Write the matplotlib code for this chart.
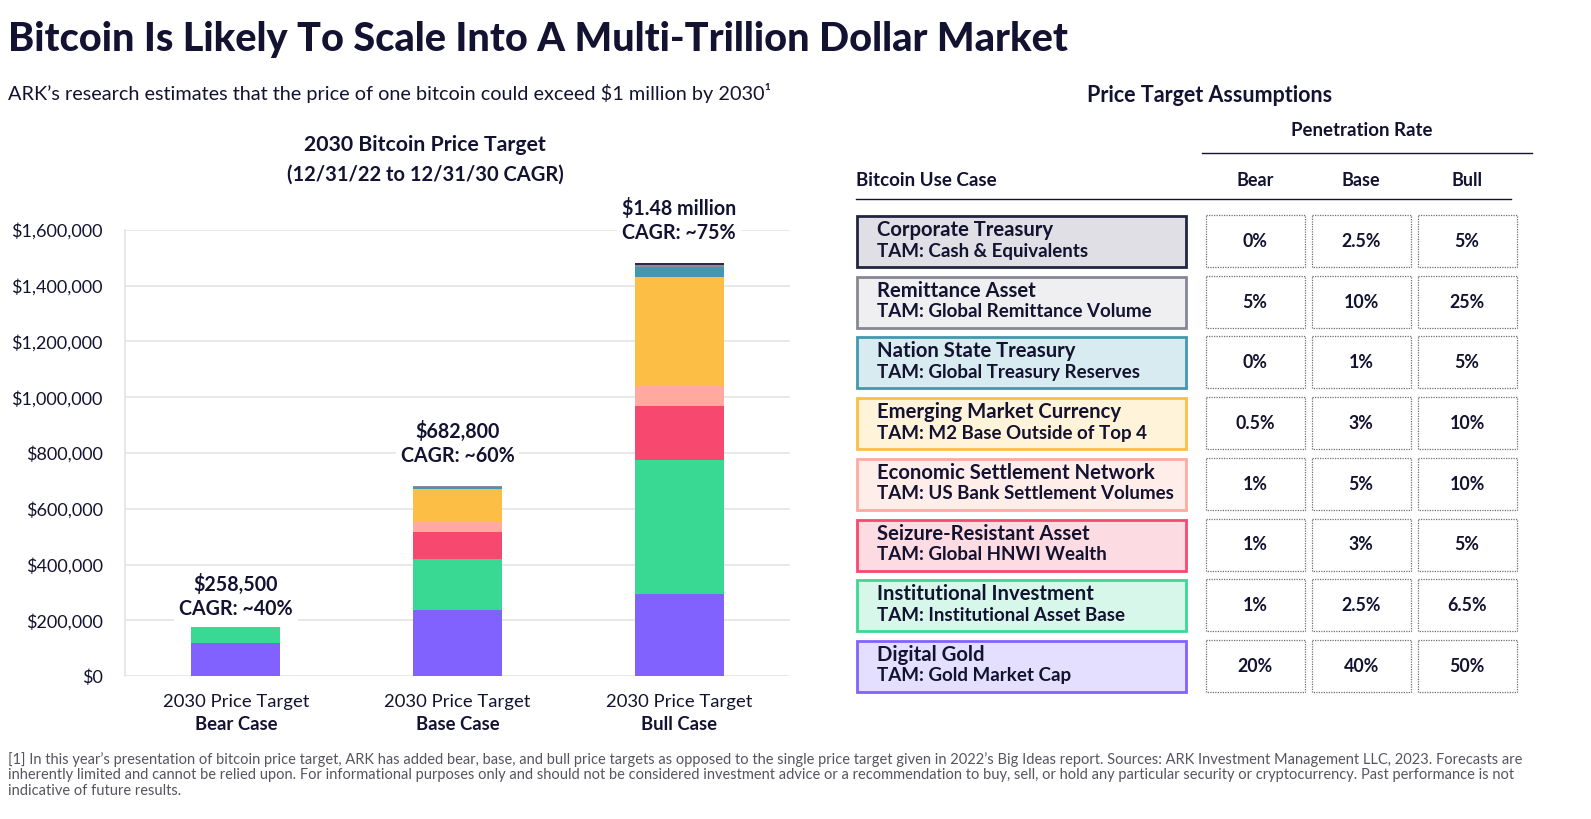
import matplotlib
matplotlib.use("Agg")
import matplotlib.pyplot as plt
from matplotlib.patches import Rectangle
import numpy as np

plt.rcParams['font.family'] = ['Lato', 'DejaVu Sans']

W, H = 1591, 819
NAVY = '#131230'

# ---- bar chart data (2030 price, $ contribution per use case, bottom to top)
cases = ["Bear Case", "Base Case", "Bull Case"]
digital_gold = [118000, 236000, 295000]
institutional = [56000, 183000, 480000]
seizure = [0, 97000, 193000]
settlement = [0, 35000, 72000]
em_currency = [0, 120000, 392000]
nation_state = [0, 7000, 36000]
remittance = [0, 3000, 8000]
corporate = [0, 2000, 6000]
price_labels = ["$258,500", "$682,800", "$1.48 million"]
cagr_labels = ["CAGR: ~40%", "CAGR: ~60%", "CAGR: ~75%"]
yticks = [0, 200000, 400000, 600000, 800000, 1000000, 1200000, 1400000, 1600000]

# ---- table data (top to bottom)
use_cases = ["Corporate Treasury", "Remittance Asset", "Nation State Treasury",
             "Emerging Market Currency", "Economic Settlement Network",
             "Seizure-Resistant Asset", "Institutional Investment", "Digital Gold"]
tams = ["TAM: Cash & Equivalents", "TAM: Global Remittance Volume",
        "TAM: Global Treasury Reserves", "TAM: M2 Base Outside of Top 4",
        "TAM: US Bank Settlement Volumes", "TAM: Global HNWI Wealth",
        "TAM: Institutional Asset Base", "TAM: Gold Market Cap"]
bear_rate = ["0%", "5%", "0%", "0.5%", "1%", "1%", "1%", "20%"]
base_rate = ["2.5%", "10%", "1%", "3%", "5%", "3%", "2.5%", "40%"]
bull_rate = ["5%", "25%", "5%", "10%", "10%", "5%", "6.5%", "50%"]

seg_colors = ['#8162FF', '#39D994', '#F7486F', '#FFA99F', '#FDBE45', '#4398AD', '#8A8C9B', '#2B2A4A']
row_fill = ['#E0DFE6', '#EFEFF2', '#D8EBF0', '#FFF3DA', '#FFEDEA', '#FDDBE2', '#D7F7EA', '#E4DFFF']
row_edge = ['#232441', '#858795', '#4398AD', '#FDBE45', '#FFA99F', '#F7486F', '#39D994', '#8162FF']
label_pad = [6, 14, 14]  # points above each bar for the price label

fig = plt.figure(figsize=(W / 100, H / 100), dpi=100)


def fx(x):
    return x / W


def fy(y):
    return 1 - y / H


# titles
fig.text(fx(8), fy(40), "Bitcoin Is Likely To Scale Into A Multi-Trillion Dollar Market",
         fontsize=28.5, fontweight='black', color=NAVY, va='center', ha='left')
fig.text(fx(8), fy(93), "ARK\u2019s research estimates that the price of one bitcoin could exceed $1 million by 2030\u00b9",
         fontsize=14.3, color=NAVY, va='center', ha='left')
fig.text(fx(425), fy(145), "2030 Bitcoin Price Target", fontsize=15.3, fontweight='bold',
         color=NAVY, ha='center', va='center')
fig.text(fx(425), fy(175), "(12/31/22 to 12/31/30 CAGR)", fontsize=14.5, fontweight='bold',
         color=NAVY, ha='center', va='center')

# ---- stacked bars
ax = fig.add_axes([fx(125), fy(676), fx(790) - fx(125), fy(230) - fy(676)])
stack = [digital_gold, institutional, seizure, settlement, em_currency,
         nation_state, remittance, corporate]
x = np.arange(len(cases))
bottom = np.zeros(len(cases))
for vals, c in zip(stack, seg_colors):
    ax.bar(x, vals, bottom=bottom, width=0.40, color=c, zorder=3)
    bottom += np.array(vals)

ax.set_xlim(-0.5, 2.5)
ax.set_ylim(0, 1600000)
ax.set_yticks(yticks)
ax.set_yticklabels(["${:,.0f}".format(v) for v in yticks], fontsize=13, color=NAVY)
ax.yaxis.grid(True, color='#E4E4E8', lw=1.2, zorder=0)
ax.set_axisbelow(True)
ax.tick_params(axis='y', length=0, pad=16)
ax.tick_params(axis='x', length=0, pad=10)
ax.set_xticks(x)
ax.set_xticklabels([])
for s in ['top', 'right', 'bottom']:
    ax.spines[s].set_visible(False)
ax.spines['left'].set_color('#E4E4E8')
ax.spines['left'].set_linewidth(1.2)

for i, case in enumerate(cases):
    ax.annotate("2030 Price Target", (i, 0), xytext=(0, -13), textcoords='offset points',
                ha='center', va='top', fontsize=13.3, color=NAVY)
    ax.annotate(case, (i, 0), xytext=(0, -29), textcoords='offset points',
                ha='center', va='top', fontsize=13.3, fontweight='bold', color=NAVY)
    ax.annotate(price_labels[i] + "\n" + cagr_labels[i], (i, bottom[i]),
                xytext=(0, label_pad[i]),
                textcoords='offset points', ha='center', va='bottom', fontsize=14.1,
                fontweight='bold', color=NAVY, linespacing=1.25, zorder=5,
                bbox=dict(boxstyle='square,pad=0.25', fc='white', ec='none'),
                annotation_clip=False)

# ---- table (drawn in pixel coordinates on an overlay)
tax = fig.add_axes([0, 0, 1, 1], facecolor='none')
tax.set_xlim(0, W)
tax.set_ylim(H, 0)
tax.axis('off')

tax.text(1210, 95, "Price Target Assumptions", fontsize=15.5, fontweight='bold',
         color=NAVY, ha='center', va='center')
tax.text(1362, 131, "Penetration Rate", fontsize=13.4, fontweight='bold',
         color=NAVY, ha='center', va='center')
tax.plot([1202, 1532], [153, 153], color=NAVY, lw=1)
tax.text(856, 180, "Bitcoin Use Case", fontsize=13.5, fontweight='bold',
         color=NAVY, ha='left', va='center')
col_x = [1255, 1361, 1467]
for cx, lab in zip(col_x, ["Bear", "Base", "Bull"]):
    tax.text(cx, 181, lab, fontsize=13, fontweight='bold', color=NAVY,
             ha='center', va='center')
tax.plot([856, 1511], [199, 199], color=NAVY, lw=1)

row_top0, row_step, row_h = 216, 60.7, 51
for r in range(len(use_cases)):
    top = row_top0 + r * row_step
    tax.add_patch(Rectangle((857, top), 329, row_h, fc=row_fill[r], ec=row_edge[r], lw=2))
    tax.text(877, top + 14, use_cases[r], fontsize=14.6, fontweight='bold', color=NAVY,
             ha='left', va='center')
    tax.text(877, top + 35, tams[r], fontsize=13.5, fontweight='bold', color=NAVY,
             ha='left', va='center')
    for cx, vals in zip(col_x, [bear_rate, base_rate, bull_rate]):
        tax.add_patch(Rectangle((cx - 49.5, top - 1), 99, row_h + 1, fc='white',
                                ec='#6E6E78', lw=0.9, ls=(0, (1, 1))))
        tax.text(cx, top + row_h / 2, vals[r], fontsize=12.8, fontweight='bold', color=NAVY,
                 ha='center', va='center')

footnote = [
    "[1] In this year\u2019s presentation of bitcoin price target, ARK has added bear, base, and bull price targets as opposed to the single price target given in 2022\u2019s Big Ideas report. Sources: ARK Investment Management LLC, 2023. Forecasts are",
    "inherently limited and cannot be relied upon. For informational purposes only and should not be considered investment advice or a recommendation to buy, sell, or hold any particular security or cryptocurrency. Past performance is not",
    "indicative of future results.",
]
for k, line in enumerate(footnote):
    tax.text(8, 760 + k * 15.5, line, fontsize=10.55, color='#55555F', ha='left', va='center')

fig.savefig("out.png", dpi=100)
